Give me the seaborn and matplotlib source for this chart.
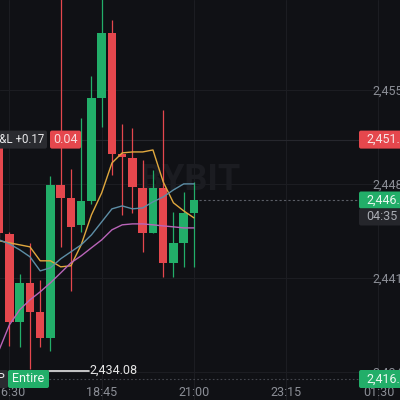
import matplotlib
matplotlib.use("Agg")
import matplotlib.pyplot as plt
from matplotlib.patches import FancyBboxPatch
from matplotlib.transforms import IdentityTransform
import numpy as np
import pandas as pd
import seaborn as sns

# 15m candles
times = ["16:15", "16:30", "16:45", "17:00", "17:15", "17:30", "17:45", "18:00", "18:15", "18:30",
         "18:45", "19:00", "19:15", "19:30", "19:45", "20:00", "20:15", "20:30", "20:45", "21:00"]
opens = [2450.70, 2444.28, 2437.73, 2440.63, 2438.47, 2436.53, 2447.93, 2446.96, 2444.95, 2446.73,
         2454.40, 2459.24, 2450.23, 2449.94, 2447.70, 2444.35, 2447.70, 2442.12, 2443.61, 2445.84]
highs = [2451.00, 2444.40, 2441.30, 2443.61, 2440.85, 2448.60, 2462.50, 2449.12, 2452.92, 2456.04,
         2462.50, 2460.21, 2452.47, 2452.17, 2449.79, 2449.04, 2453.51, 2445.92, 2447.41, 2448.15]
lows = [2444.00, 2435.94, 2435.86, 2434.20, 2435.86, 2435.57, 2443.31, 2440.03, 2444.43, 2446.50,
        2452.24, 2448.67, 2445.69, 2445.84, 2442.94, 2444.35, 2441.08, 2441.08, 2441.82, 2441.82]
closes = [2444.35, 2437.73, 2440.63, 2438.47, 2436.53, 2447.93, 2446.96, 2444.80, 2446.73, 2454.40,
          2459.24, 2450.23, 2450.01, 2447.78, 2444.35, 2447.70, 2442.12, 2443.61, 2445.84, 2446.80]

# moving averages (yellow / blue / pink)
ma_short = [2443.76, 2443.61, 2443.46, 2443.31, 2442.27, 2442.27, 2441.82, 2441.90, 2443.46, 2445.69,
            2447.33, 2449.56, 2450.31, 2450.38, 2450.38, 2450.53, 2448.15, 2446.59, 2445.99, 2445.47]
ma_mid = [2443.83, 2443.53, 2443.09, 2442.57, 2441.52, 2441.75, 2442.42, 2442.94, 2443.46, 2444.20,
          2445.17, 2446.14, 2446.36, 2446.14, 2446.21, 2446.66, 2447.03, 2447.55, 2448.00, 2448.00]
ma_long = [2435.64, 2437.50, 2438.62, 2439.36, 2439.96, 2440.63, 2441.37, 2442.12, 2442.64, 2443.24,
           2443.83, 2444.58, 2444.95, 2445.02, 2445.02, 2444.95, 2444.87, 2444.80, 2444.72, 2444.72]

price_ticks = [2434, 2441, 2448, 2455]
time_ticks = ["16:30", "18:45", "21:00", "23:15", "01:30"]

last_price = 2446.8
pos_price = 2451.3
entry_price = 2434.08
liq_price = 2416.0
countdown = "04:35"
pnl_label = "P&L +0.17"
pnl_value = "0.04"

df = pd.DataFrame({"time": times, "open": opens, "high": highs, "low": lows, "close": closes,
                   "ma_short": ma_short, "ma_mid": ma_mid, "ma_long": ma_long})
df["x"] = np.arange(len(df))
df["up"] = df["close"] >= df["open"]


def slot(t):
    h, m = map(int, t.split(":"))
    h0, m0 = map(int, times[0].split(":"))
    d = (h * 60 + m) - (h0 * 60 + m0)
    if d < 0:
        d += 24 * 60
    return d / 15


BG = "#101115"
GRID = "#1c1d22"
GREEN = "#22ae69"
RED = "#e5474d"
AXIS_TXT = "#8b8e96"

sns.set_theme(style="dark", rc={"axes.facecolor": BG, "figure.facecolor": BG})
plt.rcParams["font.family"] = ["Roboto", "DejaVu Sans"]

fig = plt.figure(figsize=(4, 4), dpi=100)
ax = fig.add_axes([0, 0, 1, 1])
ax.set_xlim(0.08, 39.1)
ax.set_ylim(2431.9, 2461.7)
ax.set_autoscale_on(False)
for s in ax.spines.values():
    s.set_visible(False)

# grid + axis labels
ax.set_xticks([slot(t) for t in time_ticks])
ax.set_xticklabels(time_ticks)
ax.set_yticks(price_ticks)
ax.set_yticklabels([f"{p:,}" for p in price_ticks])
ax.yaxis.tick_right()
ax.grid(True, color=GRID, lw=0.8)
ax.tick_params(axis="y", length=0, pad=-19.5, labelsize=9, labelcolor=AXIS_TXT)
ax.tick_params(axis="x", length=0, pad=-10, labelsize=9, labelcolor=AXIS_TXT)

# watermark
ax.text(0.475, 0.55, "BYBIT", transform=ax.transAxes, ha="center", va="center",
        fontsize=26, fontweight="bold", color="#1b1c21", zorder=1)

# candles
colors = np.where(df["up"], GREEN, RED)
ax.vlines(df["x"], df["low"], df["high"], colors=colors, lw=0.9, zorder=3)
body = (df["close"] - df["open"]).abs().clip(lower=0.12)
ax.bar(df["x"], body, bottom=df[["open", "close"]].min(axis=1), width=0.82,
       color=colors, linewidth=0, zorder=4)

sns.lineplot(data=df, x="x", y="ma_short", color="#e0a83e", lw=1, ax=ax, zorder=5)
sns.lineplot(data=df, x="x", y="ma_mid", color="#5d8ea6", lw=1, ax=ax, zorder=5)
sns.lineplot(data=df, x="x", y="ma_long", color="#b964b8", lw=1, ax=ax, zorder=5)
ax.set_xlabel("")
ax.set_ylabel("")

# overlays in pixel coords (origin bottom-left)
px = IdentityTransform()


def ypx(price):
    return ax.transData.transform((1, price))[1]


def tag(x0, w, yc, h, face, s, tcolor, tx, ha="left", size=9):
    ax.add_patch(FancyBboxPatch((x0, yc - h / 2), w, h, boxstyle="round,pad=0,rounding_size=2",
                                transform=px, fc=face, ec="none", zorder=8, clip_on=False))
    ax.text(tx, yc, s, transform=px, color=tcolor, fontsize=size, ha=ha, va="center",
            zorder=9, clip_on=False)


y_pos = ypx(pos_price)
y_last = ypx(last_price)
y_entry = ypx(entry_price)
y_bot = 21

ax.plot([81, 359], [y_pos, y_pos], transform=px, color="#26272d", lw=0.8, zorder=2)
ax.plot([199, 359], [y_last, y_last], transform=px, color="#5b5e66", lw=0.8,
        ls=(0, (2, 2)), zorder=2)
ax.plot([49, 359], [y_bot, y_bot], transform=px, color="#44464d", lw=0.8,
        ls=(0, (1.5, 2)), zorder=2)
ax.plot([49, 89], [y_entry, y_entry], transform=px, color="#e6e6e6", lw=1.2, zorder=7)
ax.text(89, y_entry, f"{entry_price:,.2f}", transform=px, color="#e6e6e6", fontsize=9,
        ha="left", va="center", zorder=9)

tag(-12, 59, y_pos, 18, "#2a2b30", pnl_label, "#e8e8ea", 44, ha="right", size=8.3)
tag(50, 31, y_pos, 18, RED, pnl_value, "#f6dcdd", 65.5, ha="center")
tag(359, 50, y_pos, 18, RED, f"{pos_price:,.1f}", "#f6e4e5", 366)
tag(359, 50, y_last, 17, GREEN, f"{last_price:,.1f}", "#eaf7f0", 366)
tag(359, 50, y_last - 17, 17, "#25262b", countdown, "#a9acb3", 366)
tag(359, 50, y_bot, 18, GREEN, f"{liq_price:,.1f}", "#eaf7f0", 366)
tag(-12, 20, y_bot, 18, "#2a2b30", "P", "#e8e8ea", -3)
tag(8, 41, y_bot, 18, GREEN, "Entire", "#f2faf5", 28.5, ha="center")

fig.savefig("out.png", dpi=100, facecolor=BG)
